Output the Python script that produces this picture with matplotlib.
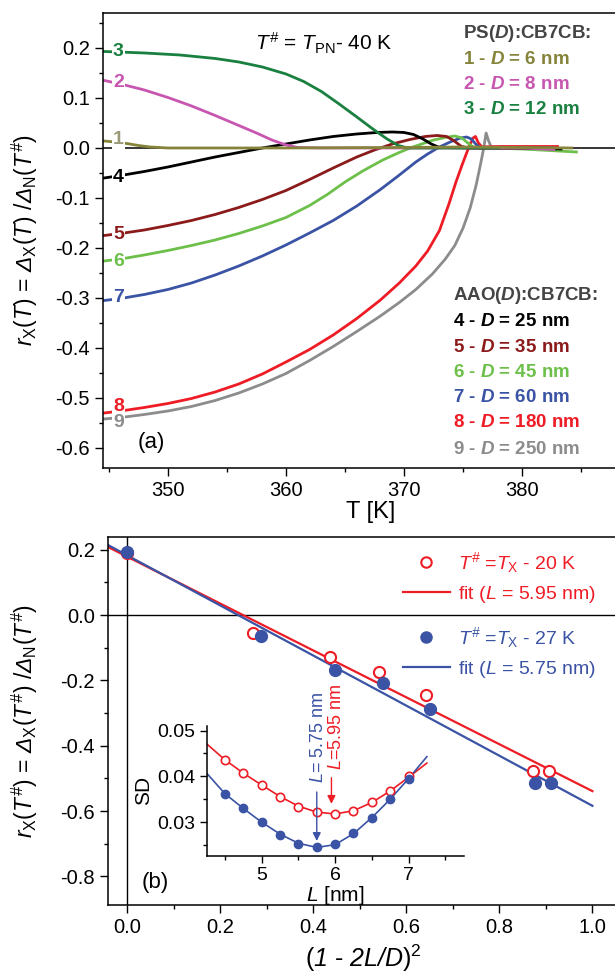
import numpy as np
import matplotlib
matplotlib.use("Agg")
import matplotlib.pyplot as plt
from matplotlib.lines import Line2D
from matplotlib.ticker import MultipleLocator, FormatStrFormatter

plt.rcParams['font.family'] = ['Liberation Sans', 'DejaVu Sans']
# math: default roman slot italic (so capital Greek comes out slanted), sf upright
plt.rcParams['mathtext.fontset'] = 'custom'
plt.rcParams['mathtext.rm'] = 'Liberation Sans:italic'
plt.rcParams['mathtext.it'] = 'Liberation Sans:italic'
plt.rcParams['mathtext.sf'] = 'Liberation Sans'
plt.rcParams['mathtext.bf'] = 'Liberation Sans:bold:italic'
plt.rcParams['axes.unicode_minus'] = False

# ---- panel (a): r_x(T) curves ----
T1 = [344.6, 345.5, 346.5, 347.5, 348.5, 350, 360, 370, 375, 380, 384.2]
r1 = [0.014, 0.012, 0.009, 0.005, 0.002, 0.0, 0.0, 0.001, 0.002, 0.001, 0.0]

T2 = [344.6, 346, 348, 350, 352, 354, 356, 357.5, 358.8, 360, 361, 363, 370, 380, 382.7]
r2 = [0.135, 0.128, 0.116, 0.101, 0.084, 0.065, 0.045, 0.03, 0.016, 0.006, 0.001, 0.0, 0.0, 0.0, -0.003]

T3 = [344.6, 348, 351, 354, 356, 358, 360, 361.5, 363, 364.5, 366, 367.3, 368.5, 369.5, 370.3, 375, 378]
r3 = [0.193, 0.19, 0.186, 0.179, 0.172, 0.162, 0.148, 0.133, 0.113, 0.088, 0.062, 0.039, 0.019, 0.005, 0.0, 0.0, 0.0]

T4 = [344.6, 346, 348, 350, 352, 354, 356, 358, 360, 362, 364, 366, 367.7, 369, 370, 370.8, 371.6, 372.3, 373, 376, 380, 383.3]
r4 = [-0.06, -0.055, -0.047, -0.038, -0.028, -0.018, -0.009, 0.0, 0.008, 0.016, 0.023, 0.028, 0.031, 0.032, 0.031, 0.027, 0.018, 0.008, 0.001, 0.0, 0.0, -0.002]

T5 = [344.6, 346, 348, 350, 352, 354, 356, 358, 360, 362, 364, 366, 367.5, 369, 370.5, 371.8, 372.8, 373.6, 374.2, 374.8, 375.3, 378, 382]
r5 = [-0.175, -0.171, -0.164, -0.155, -0.145, -0.133, -0.119, -0.103, -0.085, -0.063, -0.04, -0.018, -0.004, 0.008, 0.017, 0.023, 0.025, 0.023, 0.015, 0.004, 0.0, 0.0, 0.0]

T6 = [344.6, 346, 348, 350, 352, 354, 356, 358, 360, 362, 363.5, 365, 366.5, 368.2, 369.5, 370.5, 371.5, 372.5, 373.5, 374.3, 374.9, 375.4, 375.9, 377, 380, 384.6]
r6 = [-0.226, -0.222, -0.214, -0.205, -0.195, -0.184, -0.171, -0.156, -0.139, -0.115, -0.093, -0.068, -0.046, -0.024, -0.01, 0.0, 0.008, 0.016, 0.021, 0.024, 0.02, 0.01, 0.001, 0.0, -0.002, -0.008]

T7 = [344.6, 346, 348, 350, 352, 354, 356, 358, 360, 362, 364, 366, 368, 369.5, 371, 372, 373, 374, 374.8, 375.3, 375.7, 376.1, 376.5, 378, 382.5]
r7 = [-0.305, -0.301, -0.293, -0.283, -0.27, -0.254, -0.236, -0.216, -0.194, -0.17, -0.145, -0.116, -0.083, -0.056, -0.028, -0.012, 0.002, 0.013, 0.02, 0.022, 0.018, 0.007, 0.0, 0.0, 0.0]

T8 = [344.6, 346, 348, 350, 352, 354, 356, 358, 360, 362, 364, 366, 368, 369.6, 371, 372, 373, 373.8, 374.4, 374.9, 375.3, 375.6, 375.85, 376.05, 376.3, 376.6, 378, 383]
r8 = [-0.53, -0.526, -0.519, -0.511, -0.501, -0.488, -0.472, -0.452, -0.428, -0.403, -0.374, -0.341, -0.304, -0.27, -0.236, -0.206, -0.165, -0.112, -0.068, -0.035, -0.01, 0.008, 0.02, 0.023, 0.01, 0.002, 0.003, 0.003]

T9 = [344.6, 346, 348, 350, 352, 354, 356, 358, 360, 362, 364, 366, 368, 369.6, 371, 372.4, 373.5, 374.3, 375, 375.6, 376.1, 376.5, 376.75, 376.95, 377.15, 377.4, 380.6]
r9 = [-0.542, -0.539, -0.533, -0.526, -0.517, -0.505, -0.49, -0.472, -0.451, -0.425, -0.397, -0.367, -0.336, -0.309, -0.283, -0.252, -0.222, -0.195, -0.16, -0.12, -0.075, -0.03, 0.0, 0.03, 0.015, 0.001, 0.0]

curves_T = [T1, T2, T3, T4, T5, T6, T7, T8, T9]
curves_r = [r1, r2, r3, r4, r5, r6, r7, r8, r9]
colors = ['#85843a', '#c756b0', '#1a8040', '#000000', '#8b1a1a', '#6cc04a', '#3a53a4', '#ee1c25', '#8c8c8c']
label_colors = ['#9a9a78', '#c756b0', '#1a8040', '#000000', '#8b1a1a', '#6cc04a', '#3a53a4', '#ee1c25', '#8c8c8c']
label_r = [0.016, 0.13, 0.192, -0.06, -0.174, -0.228, -0.3, -0.517, -0.55]
ps_names = ['1 - $\\mathbf{D}$ = 6 nm', '2 - $\\mathbf{D}$ = 8 nm', '3 - $\\mathbf{D}$ = 12 nm']
aao_names = ['4 - $\\mathbf{D}$ = 25 nm', '5 - $\\mathbf{D}$ = 35 nm', '6 - $\\mathbf{D}$ = 45 nm',
             '7 - $\\mathbf{D}$ = 60 nm', '8 - $\\mathbf{D}$ = 180 nm', '9 - $\\mathbf{D}$ = 250 nm']

# ---- panel (b): r_x(T#) vs (1-2L/D)^2 ----
xb_red = [0.0, 0.271, 0.437, 0.542, 0.643, 0.872, 0.906]
yb_red = [0.19, -0.055, -0.128, -0.175, -0.245, -0.477, -0.477]
xb_blue = [0.0, 0.288, 0.447, 0.551, 0.652, 0.876, 0.910]
yb_blue = [0.193, -0.064, -0.168, -0.208, -0.288, -0.514, -0.514]
fit_x = [-0.04, 1.0]
fit_red = [0.208, -0.539]
fit_blue = [0.214, -0.584]

# inset: SD vs L
L_pts = [4.5, 4.75, 5.0, 5.25, 5.5, 5.75, 6.0, 6.25, 6.5, 6.75, 7.0]
sd_red = [0.0436, 0.0407, 0.0381, 0.0356, 0.0334, 0.0322, 0.0317, 0.0325, 0.0343, 0.0368, 0.0400]
sd_blue = [0.0362, 0.0330, 0.0300, 0.0273, 0.0253, 0.0245, 0.0252, 0.0276, 0.0310, 0.0350, 0.0394]
L_fit = [4.25, 4.5, 4.75, 5.0, 5.25, 5.5, 5.75, 6.0, 6.25, 6.5, 6.75, 7.0, 7.25]
sd_fit_red = [0.0471, 0.0436, 0.0407, 0.0381, 0.0356, 0.0335, 0.0322, 0.0318, 0.0325, 0.0343, 0.0368, 0.0398, 0.0429]
sd_fit_blue = [0.0407, 0.0362, 0.0330, 0.0300, 0.0274, 0.0254, 0.0245, 0.0251, 0.0275, 0.0310, 0.0350, 0.0395, 0.0443]

RED = '#ee1c25'
BLUE = '#3a53a4'

fig = plt.figure(figsize=(6.15, 9.76), dpi=100)


def style_axes(ax, size=14.5):
    ax.spines['right'].set_visible(False)
    for s in ['left', 'bottom', 'top']:
        ax.spines[s].set_linewidth(1.1)
    ax.tick_params(which='both', direction='out', top=False, right=False,
                   labelsize=size, width=1.0, pad=4)
    ax.tick_params(which='major', length=5.5)
    ax.tick_params(which='minor', length=3)


# ===== panel (a) =====
ax1 = fig.add_axes([0.1675, 0.5205, 0.835, 0.4662])
style_axes(ax1)
ax1.axhline(0, color='black', lw=1.1, zorder=1)
for i in [8, 7, 6, 5, 4, 3, 1, 2, 0]:
    ax1.plot(curves_T[i], curves_r[i], color=colors[i], lw=2.0, zorder=2)
for i in range(9):
    ax1.text(345.8, label_r[i], str(i + 1), color=label_colors[i], fontsize=14,
             fontweight='bold', ha='center', va='center', zorder=3,
             bbox=dict(facecolor='white', edgecolor='none', pad=0.5))
ax1.set_xlim(344.5, 388.0)
ax1.set_ylim(-0.64, 0.27)
ax1.xaxis.set_major_locator(MultipleLocator(10))
ax1.xaxis.set_minor_locator(MultipleLocator(5))
ax1.yaxis.set_major_locator(MultipleLocator(0.1))
ax1.yaxis.set_minor_locator(MultipleLocator(0.05))
ax1.yaxis.set_major_formatter(FormatStrFormatter('%.1f'))
ax1.set_xlabel('T [K]', fontsize=17)
ax1.xaxis.set_label_coords(0.522, -0.072)
ax1.set_ylabel(r'$r_{\mathsf{X}}$($T$) = $\Delta_{\mathsf{X}}$($T$) /$\Delta_{\mathsf{N}}$($T^{\#}$)', fontsize=16.5)
ax1.yaxis.set_label_coords(-0.123, 0.5)

ax1.text(0.296, 0.934, r'$T^{\#}$ = $T_{\mathsf{PN}}$- 40 K', transform=ax1.transAxes,
         fontsize=15, va='center', ha='left')
ax1.text(0.095, 0.057, '(a)', transform=ax1.transAxes, fontsize=16, ha='center', va='center')

ax1.text(0.701, 0.956, 'PS($\\mathbf{D}$):CB7CB:', transform=ax1.transAxes, color='#444444',
         fontsize=13.5, fontweight='bold', va='center')
for k, yy in enumerate([0.897, 0.842, 0.787]):
    ax1.text(0.701, yy, ps_names[k], transform=ax1.transAxes, color=colors[k],
             fontsize=13.5, fontweight='bold', va='center')
ax1.text(0.682, 0.380, 'AAO($\\mathbf{D}$):CB7CB:', transform=ax1.transAxes, color='#444444',
         fontsize=13.5, fontweight='bold', va='center')
for k, yy in enumerate([0.321, 0.264, 0.209, 0.154, 0.099, 0.040]):
    ax1.text(0.682, yy, aao_names[k], transform=ax1.transAxes, color=colors[k + 3],
             fontsize=13.5, fontweight='bold', va='center')

# ===== panel (b) =====
ax2 = fig.add_axes([0.1756, 0.0727, 0.83, 0.377])
style_axes(ax2)
ax2.axhline(0, color='black', lw=1.0, zorder=1)
ax2.axvline(0, color='black', lw=1.0, zorder=1)
ax2.plot(fit_x, fit_red, color=RED, lw=1.6, zorder=2)
ax2.plot(fit_x, fit_blue, color=BLUE, lw=1.6, zorder=2)
ax2.plot(xb_red, yb_red, 'o', mfc='white', mec=RED, mew=1.5, ms=8, ls='none', zorder=3)
ax2.plot(xb_blue, yb_blue, 'o', mfc=BLUE, mec=BLUE, ms=8.5, ls='none', zorder=4)
ax2.set_xlim(-0.0409, 1.056)
ax2.set_ylim(-0.888, 0.239)
ax2.xaxis.set_major_locator(MultipleLocator(0.2))
ax2.xaxis.set_minor_locator(MultipleLocator(0.1))
ax2.yaxis.set_major_locator(MultipleLocator(0.2))
ax2.yaxis.set_minor_locator(MultipleLocator(0.1))
ax2.xaxis.set_major_formatter(FormatStrFormatter('%.1f'))
ax2.yaxis.set_major_formatter(FormatStrFormatter('%.1f'))
ax2.set_xlabel(r'($1$ - $2L/D$)$^{\mathsf{2}}$', fontsize=18)
ax2.set_ylabel(r'$r_{\mathsf{X}}$($T^{\#}$) = $\Delta_{\mathsf{X}}$($T^{\#}$) /$\Delta_{\mathsf{N}}$($T^{\#}$)', fontsize=16.5)
ax2.yaxis.set_label_coords(-0.133, 0.5)
ax2.text(0.092, 0.06, '(b)', transform=ax2.transAxes, fontsize=16, ha='center', va='center')

h_red = [Line2D([], [], marker='o', ls='none', mfc='white', mec=RED, mew=1.5, ms=7.5),
         Line2D([], [], color=RED, lw=1.6)]
h_blue = [Line2D([], [], marker='o', ls='none', mfc=BLUE, mec=BLUE, ms=8),
          Line2D([], [], color=BLUE, lw=1.6)]
leg1 = ax2.legend(h_red, [r'$T^{\#}$ =$T_{\mathsf{X}}$ - 20 K', r'fit ($L$ = 5.95 nm)'],
                  loc='center left', bbox_to_anchor=(0.577, 0.89), frameon=False,
                  fontsize=14, handlelength=2.45, handletextpad=0.4, borderpad=0,
                  borderaxespad=0, labelspacing=0.45, labelcolor=[RED, RED])
ax2.add_artist(leg1)
ax2.legend(h_blue, [r'$T^{\#}$ =$T_{\mathsf{X}}$ - 27 K', r'fit ($L$ = 5.75 nm)'],
           loc='center left', bbox_to_anchor=(0.577, 0.686), frameon=False,
           fontsize=14, handlelength=2.45, handletextpad=0.4, borderpad=0,
           borderaxespad=0, labelspacing=0.45, labelcolor=[BLUE, BLUE])

# ===== inset =====
axi = fig.add_axes([0.336, 0.1233, 0.419, 0.1329])
axi.set_facecolor('none')
for s in ['top', 'right']:
    axi.spines[s].set_visible(False)
for s in ['left', 'bottom']:
    axi.spines[s].set_linewidth(1.1)
axi.tick_params(which='both', direction='out', top=False, right=False, labelsize=14, width=1.0, pad=3)
axi.tick_params(which='major', length=5)
axi.tick_params(which='minor', length=3)
axi.plot(L_fit, sd_fit_red, color=RED, lw=1.2)
axi.plot(L_fit, sd_fit_blue, color=BLUE, lw=1.2)
axi.plot(L_pts, sd_red, 'o', mfc='white', mec=RED, mew=1.2, ms=6)
axi.plot(L_pts, sd_blue, 'o', mfc=BLUE, mec=BLUE, ms=6)
axi.set_xlim(4.25, 7.76)
axi.set_ylim(0.0227, 0.051)
axi.xaxis.set_major_locator(MultipleLocator(1))
axi.xaxis.set_minor_locator(MultipleLocator(0.5))
axi.yaxis.set_major_locator(MultipleLocator(0.01))
axi.yaxis.set_minor_locator(MultipleLocator(0.005))
axi.yaxis.set_major_formatter(FormatStrFormatter('%.2f'))
axi.set_xlabel(r'$L$ [nm]', fontsize=15, labelpad=0)
axi.set_ylabel('SD', fontsize=15, labelpad=3)
axi.annotate('', xy=(5.75, 0.0253), xytext=(5.75, 0.0372),
             arrowprops=dict(arrowstyle='-|>', color=BLUE, lw=1.0, mutation_scale=12))
axi.annotate('', xy=(5.95, 0.0334), xytext=(5.95, 0.0403),
             arrowprops=dict(arrowstyle='-|>', color=RED, lw=1.0, mutation_scale=12))
axi.text(5.77, 0.0386, r'$L$= 5.75 nm', rotation=90, ha='center', va='bottom',
         color=BLUE, fontsize=13, clip_on=False)
axi.text(6.02, 0.0414, r'$L$=5.95 nm', rotation=90, ha='center', va='bottom',
         color=RED, fontsize=13, clip_on=False)

fig.savefig('out.png', dpi=100)
